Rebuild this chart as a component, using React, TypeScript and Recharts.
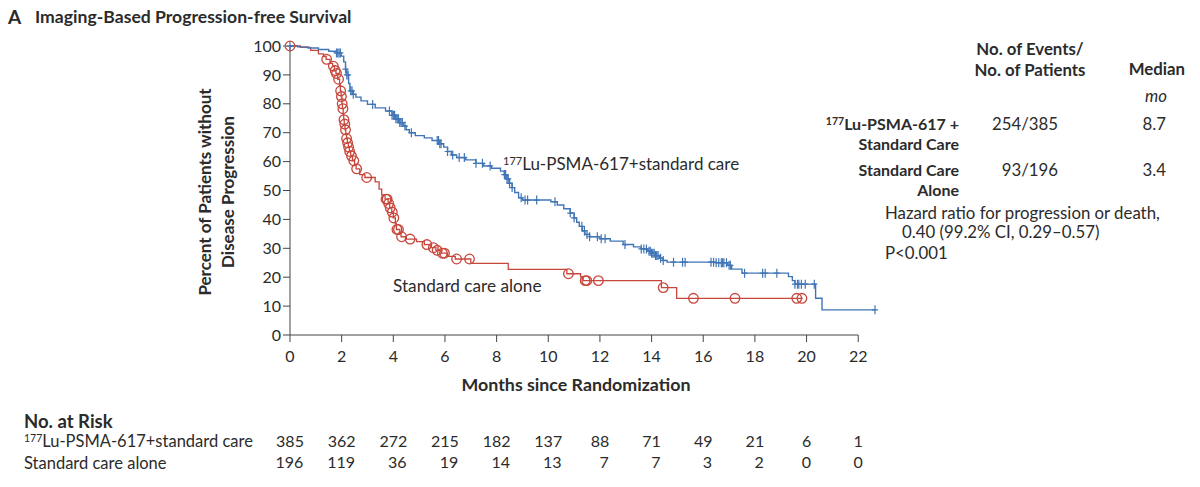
import { ComposedChart, Line, Scatter, XAxis, YAxis, ReferenceLine } from "recharts";

// months shown on the x axis and the no.-at-risk table underneath
const months = [0, 2, 4, 6, 8, 10, 12, 14, 16, 18, 20, 22];
const riskLu = [385, 362, 272, 215, 182, 137, 88, 71, 49, 21, 6, 1];
const riskSoc = [196, 119, 36, 19, 14, 13, 7, 7, 3, 2, 0, 0];
const yTicks = [0, 10, 20, 30, 40, 50, 60, 70, 80, 90, 100];

// Kaplan-Meier steps [month, % free of progression]
const luCurve: [number, number][] = [
  [0, 100], [0.3, 99.7], [0.7, 99.3], [1.1, 98.8], [1.5, 98.2], [1.8, 97.6], [1.98, 96.5],
  [2.08, 94.5], [2.15, 92], [2.2, 90], [2.27, 87], [2.32, 84.5], [2.42, 83.3], [2.55, 82.3],
  [2.75, 81], [3.0, 79.8], [3.3, 78.6], [3.7, 77.5], [3.95, 76], [4.1, 74.8], [4.25, 73.5],
  [4.38, 72.3], [4.5, 71], [4.62, 70], [4.85, 69], [5.2, 68.2], [5.5, 67.3], [5.8, 66.2],
  [5.95, 65], [6.1, 63.5], [6.25, 62.3], [6.45, 61.4], [6.8, 60.6], [7.2, 59.4], [7.5, 58.5],
  [7.8, 57.7], [8.15, 56.7], [8.3, 55.5], [8.4, 54], [8.5, 52.5], [8.6, 51], [8.7, 49.3],
  [8.85, 47.5], [9.0, 46.7], [10.1, 46.1], [10.35, 45], [10.6, 43.7], [10.85, 42.2], [11.0, 40.5],
  [11.1, 39], [11.2, 37.6], [11.32, 36], [11.42, 34.8], [11.6, 34], [12.0, 33.3], [12.4, 32.5],
  [12.9, 31.3], [13.3, 30.5], [13.6, 29.8], [13.85, 29], [14.0, 28.3], [14.15, 27.5], [14.3, 26.6],
  [14.45, 25.8], [14.6, 25.2], [16.5, 25], [16.95, 24.1], [17.1, 22.8], [17.5, 21.4], [19.3, 20.2],
  [19.45, 18.8], [19.55, 17.6], [20.35, 12.7], [20.6, 8.7], [22.65, 8.7],
];
const socCurve: [number, number][] = [
  [0, 100], [0.4, 99.5], [0.8, 98.5], [1.1, 97.3], [1.3, 96.3], [1.4, 95.4], [1.55, 94],
  [1.65, 93], [1.72, 91.5], [1.78, 90.5], [1.85, 88.5], [1.92, 86.5], [1.95, 84.5], [1.98, 82.5],
  [2.01, 80], [2.03, 78.3], [2.06, 76], [2.08, 74.5], [2.1, 73], [2.13, 71], [2.16, 69.5],
  [2.19, 68], [2.22, 66.5], [2.26, 65], [2.3, 63.5], [2.35, 62], [2.42, 60.3], [2.5, 59],
  [2.56, 57.5], [2.7, 55.5], [2.9, 54.5], [3.3, 53], [3.45, 50.5], [3.55, 48.5], [3.68, 47],
  [3.8, 45.5], [3.86, 44], [3.94, 42.5], [4.0, 40.5], [4.08, 38.5], [4.12, 36.5], [4.25, 35],
  [4.3, 34], [4.5, 33.2], [4.9, 32.3], [5.2, 31.3], [5.45, 30.2], [5.65, 29.3], [5.85, 28.3],
  [6.1, 27.2], [6.4, 26.3], [7.0, 24.8], [8.45, 22.7], [10.72, 21.2], [11.25, 20.1], [11.35, 18.8],
  [14.38, 16.4], [14.97, 12.7], [19.85, 12.7],
];

// censoring times (months)
const luCensor = [
  0, 1.8, 1.85, 1.9, 1.95, 2.15, 2.2, 2.25, 2.35, 2.4, 2.45, 3.2, 3.85, 3.95, 4.0, 4.05, 4.1,
  4.15, 4.2, 4.25, 4.3, 4.35, 4.45, 4.7, 5.7, 5.75, 5.8, 5.85, 6.1, 6.3, 6.55, 6.75, 7.2, 7.45,
  7.75, 8.3, 8.35, 8.4, 8.45, 8.5, 8.6, 8.95, 9.1, 9.2, 9.55, 10.26, 10.85, 11.0, 11.3, 11.4,
  11.5, 11.6, 11.9, 12.05, 12.2, 12.97, 13.6, 13.7, 13.8, 13.9, 13.95, 14.0, 14.05, 14.1, 14.15,
  14.2, 14.25, 14.35, 14.45, 14.85, 15.2, 15.3, 16.3, 16.4, 16.5, 16.6, 16.7, 16.75, 16.8, 16.9,
  17.0, 17.05, 17.6, 18.3, 18.4, 18.85, 19.55, 19.65, 19.7, 19.8, 19.95, 20.3, 22.65,
];
const socCensor = [
  0, 1.42, 1.68, 1.75, 1.8, 1.88, 1.96, 1.99, 2.02, 2.05, 2.09, 2.12, 2.15, 2.19, 2.23, 2.27,
  2.31, 2.38, 2.47, 2.58, 2.97, 3.72, 3.76, 3.82, 3.88, 3.96, 4.02, 4.14, 4.2, 4.32, 4.65, 5.3,
  5.55, 5.7, 5.9, 5.98, 6.45, 6.95, 10.78, 11.43, 11.49, 11.94, 14.45, 15.62, 17.23, 19.62, 19.82,
];

const BLUE = "#4075b6";
const RED = "#c8473c";
const INK = "#2b2b2b";
const FONT = "Lato, 'Open Sans', sans-serif";
const NUM_SIZE = 16;
const DIGIT_W = 8.9;

const toPoints = (c: [number, number][]) => c.map(([x, y]) => ({ x, y }));
const stepAt = (c: [number, number][], t: number) => {
  let v = c[0][1];
  for (const [x, y] of c) if (x <= t) v = y;
  return v;
};
const marks = (c: [number, number][], times: number[]) => times.map((t) => ({ x: t, y: stepAt(c, t) }));

const PlusMark = (p: any) => (
  <path
    d={`M${p.cx - 3},${p.cy}H${p.cx + 3}M${p.cx},${p.cy - 4.5}V${p.cy + 4.5}`}
    stroke={BLUE}
    strokeWidth={1.2}
    fill="none"
  />
);
const CircleMark = (p: any) => <circle cx={p.cx} cy={p.cy} r={4.8} stroke={RED} strokeWidth={1.3} fill="none" />;

function MonthTick(props: any) {
  const { x, y, payload } = props;
  const i = months.indexOf(payload.value);
  const half = (String(riskLu[i]).length * DIGIT_W) / 2;
  const st = { fontFamily: FONT, fontSize: NUM_SIZE, fill: INK };
  return (
    <g>
      <text x={x} y={y + 18} textAnchor="middle" style={st}>{payload.value}</text>
      <text x={x} y={y + 103} textAnchor="middle" style={st}>{riskLu[i]}</text>
      <text x={x + half} y={y + 124} textAnchor="end" style={st}>{riskSoc[i]}</text>
    </g>
  );
}

const txt = (left: number, top: number, extra: React.CSSProperties = {}): React.CSSProperties => ({
  position: "absolute",
  left,
  top,
  lineHeight: "20px",
  fontFamily: FONT,
  fontSize: 16.8,
  color: INK,
  whiteSpace: "nowrap",
  ...extra,
});
const rtxt = (right: number, top: number, extra: React.CSSProperties = {}): React.CSSProperties =>
  txt(0, top, { left: undefined, right: 1200 - right, textAlign: "right", ...extra });

const Sup = ({ size }: { size: number }) => (
  <span style={{ fontSize: size, lineHeight: 0, verticalAlign: "0.45em" }}>177</span>
);

export default function App() {
  return (
    <div style={{ position: "absolute", left: 0, top: 0, width: 1200, height: 487, background: "#fff", overflow: "hidden" }}>
      <div style={txt(8, 6, { fontSize: 19, fontWeight: 700, lineHeight: "22px" })}>A</div>
      <div style={txt(35, 6, { fontSize: 17.6, fontWeight: 700, lineHeight: "22px" })}>Imaging-Based Progression-free Survival</div>

      <ComposedChart width={1200} height={487} margin={{ top: 46, right: 325, bottom: 122, left: 250 }}>
        <XAxis
          dataKey="x"
          type="number"
          domain={[0, "dataMax"]}
          ticks={months}
          tickSize={7}
          axisLine={false}
          tickLine={{ stroke: "#444" }}
          tick={<MonthTick />}
          height={30}
          interval={0}
        />
        <YAxis
          type="number"
          domain={[0, 100]}
          ticks={yTicks}
          width={40}
          tickSize={7}
          interval={0}
          axisLine={{ stroke: "#444" }}
          tickLine={{ stroke: "#444" }}
          tick={{ fontFamily: FONT, fontSize: NUM_SIZE, fill: INK }}
        />
        <ReferenceLine segment={[{ x: 0, y: 0 }, { x: 22, y: 0 }]} stroke="#444" />
        <Line data={toPoints(socCurve)} dataKey="y" type="stepAfter" stroke={RED} strokeWidth={1.3} dot={false} isAnimationActive={false} />
        <Scatter data={marks(socCurve, socCensor)} dataKey="y" shape={CircleMark} isAnimationActive={false} />
        <Line data={toPoints(luCurve)} dataKey="y" type="stepAfter" stroke={BLUE} strokeWidth={1.4} dot={false} isAnimationActive={false} />
        <Scatter data={marks(luCurve, luCensor)} dataKey="y" shape={PlusMark} isAnimationActive={false} />
      </ComposedChart>

      {/* y axis title */}
      <div
        style={{
          position: "absolute",
          left: 216,
          top: 192,
          transform: "translate(-50%, -50%) rotate(-90deg)",
          fontFamily: FONT,
          fontSize: 17,
          fontWeight: 700,
          color: INK,
          textAlign: "center",
          lineHeight: "23px",
          whiteSpace: "nowrap",
        }}
      >
        Percent of Patients without
        <br />
        Disease Progression
      </div>
      <div style={txt(576, 374, { transform: "translateX(-50%)", fontSize: 17.8, fontWeight: 700 })}>Months since Randomization</div>

      {/* in-plot labels */}
      <div style={txt(503, 154, { fontSize: 17 })}>
        <Sup size={11} />Lu-PSMA-617+standard care
      </div>
      <div style={txt(393, 276, { fontSize: 17.2 })}>Standard care alone</div>

      {/* summary table */}
      <div style={txt(1030, 38, { transform: "translateX(-50%)", fontWeight: 700, fontSize: 16.8, textAlign: "center", lineHeight: "21px" })}>
        No. of Events/
        <br />
        No. of Patients
      </div>
      <div style={rtxt(1185, 59, { fontWeight: 700, fontSize: 16.8 })}>Median</div>
      <div style={rtxt(1167, 86, { fontStyle: "italic" })}>mo</div>
      <div style={rtxt(959, 114, { fontWeight: 700, fontSize: 16 })}>
        <Sup size={10.5} />Lu-PSMA-617 +
        <br />
        Standard Care
      </div>
      <div style={rtxt(1058, 114)}>254/385</div>
      <div style={rtxt(1166, 114)}>8.7</div>
      <div style={rtxt(959, 160, { fontWeight: 700, fontSize: 16 })}>
        Standard Care
        <br />
        Alone
      </div>
      <div style={rtxt(1058, 160)}>93/196</div>
      <div style={rtxt(1166, 160)}>3.4</div>
      <div style={txt(885, 203)}>Hazard ratio for progression or death,</div>
      <div style={txt(902, 222)}>0.40 (99.2% CI, 0.29–0.57)</div>
      <div style={txt(885, 243)}>P&lt;0.001</div>

      {/* at-risk labels */}
      <div style={txt(24, 411, { fontWeight: 700, fontSize: 18.5 })}>No. at Risk</div>
      <div style={txt(24, 432, { fontSize: 16.5, lineHeight: "19px" })}>
        <Sup size={10.5} />Lu-PSMA-617+standard care
      </div>
      <div style={txt(24, 454, { fontSize: 16.5, lineHeight: "19px" })}>Standard care alone</div>
    </div>
  );
}
